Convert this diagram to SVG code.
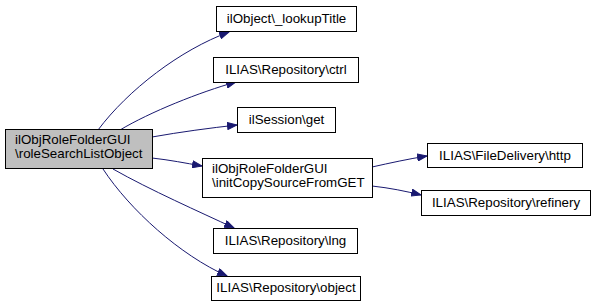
<svg xmlns="http://www.w3.org/2000/svg" width="595" height="307" viewBox="0 0 595 307">
<defs>
<marker id="ah" markerWidth="11" markerHeight="8" refX="10" refY="4" orient="auto" markerUnits="userSpaceOnUse">
<path d="M0.5,0.5 L10,4 L0.5,7.5 Z" fill="#191970" stroke="#191970"/>
</marker>
<style>
.n rect{fill:#fff;stroke:#000;stroke-width:1}
.n.m rect{fill:#bfbfbf}
text{font-family:"Liberation Sans",Arial,sans-serif;font-size:13.33px;fill:#000}
.c{text-anchor:middle}
.e path{fill:none;stroke:#191970;stroke-width:1;marker-end:url(#ah)}
</style>
</defs>
<rect width="595" height="307" fill="#fff"/>
<g class="e" id="edges">
<path d="M98,130 C128,90 180,50 229,32"/>
<path d="M120,130 C150,112 200,92 236,82"/>
<path d="M152,137 C180,132 210,128 237,125"/>
<path d="M152,158 C170,160 185,163 202,166"/>
<path d="M113,169 C150,190 200,212 234,228"/>
<path d="M103,169 C130,210 180,255 227,276"/>
<path d="M372,167 C390,163 408,159 427,156"/>
<path d="M372,186 C390,188 405,191 421,195"/>
</g>
<g class="n m" id="main"><rect x="5.5" y="129.5" width="147" height="39"/><text x="15" y="144">ilObjRoleFolderGUI</text><text x="15" y="157.5">\roleSearchListObject</text></g>
<g class="n" id="lookup"><rect x="216.5" y="6.5" width="140" height="25"/><text class="c" x="286.5" y="22.5">ilObject\_lookupTitle</text></g>
<g class="n" id="ctrl"><rect x="213.5" y="57.5" width="145" height="25"/><text class="c" x="286" y="73.5">ILIAS\Repository\ctrl</text></g>
<g class="n" id="get"><rect x="237.5" y="107.5" width="98" height="25"/><text class="c" x="286.5" y="123.5">ilSession\get</text></g>
<g class="n" id="initcopy"><rect x="202.5" y="158.5" width="170" height="39"/><text x="212" y="173">ilObjRoleFolderGUI</text><text x="212" y="186.5">\initCopySourceFromGET</text></g>
<g class="n" id="lng"><rect x="213.5" y="228.5" width="144" height="25"/><text class="c" x="285.5" y="244.5">ILIAS\Repository\lng</text></g>
<g class="n" id="object"><rect x="211.5" y="276.5" width="149" height="24"/><text class="c" x="286" y="292">ILIAS\Repository\object</text></g>
<g class="n" id="http"><rect x="427.5" y="143.5" width="155" height="24"/><text class="c" x="505" y="159.5">ILIAS\FileDelivery\http</text></g>
<g class="n" id="refinery"><rect x="421.5" y="190.5" width="169" height="25"/><text class="c" x="506" y="206.5">ILIAS\Repository\refinery</text></g>
</svg>
